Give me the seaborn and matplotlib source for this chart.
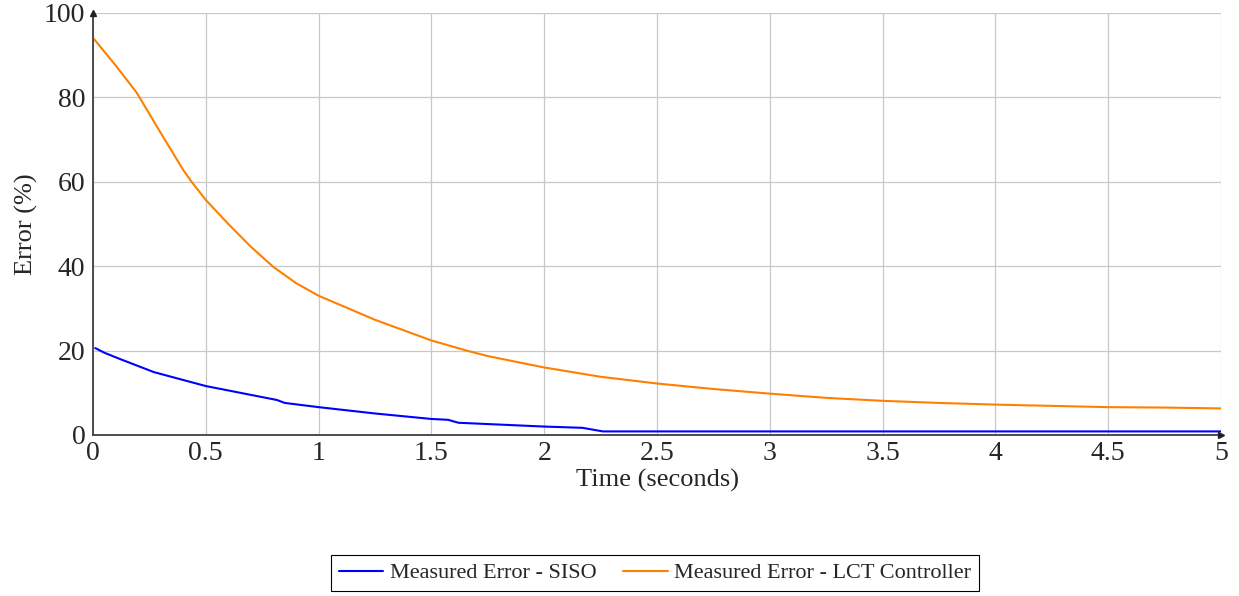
import matplotlib
matplotlib.use("Agg")
import matplotlib.pyplot as plt
import seaborn as sns
import pandas as pd

# Measured tracking error over time for two controllers
siso_time = [0.01, 0.05, 0.12, 0.27, 0.5, 0.815, 0.85, 1.0, 1.25, 1.5, 1.574,
             1.62, 2.0, 2.17, 2.26, 5.0]
siso_error = [20.6, 19.5, 18.0, 14.9, 11.6, 8.3, 7.6, 6.6, 5.1, 3.8, 3.6,
              2.9, 2.0, 1.7, 0.85, 0.85]

lct_time = [0.005, 0.1, 0.194, 0.3, 0.4, 0.437, 0.5, 0.6, 0.7, 0.8, 0.9, 1.0,
            1.25, 1.5, 1.656, 1.75, 2.0, 2.25, 2.5, 2.75, 3.0, 3.25, 3.5, 3.75,
            4.0, 4.25, 4.5, 4.75, 5.0]
lct_error = [93.8, 87.6, 81.1, 71.6, 62.8, 60.0, 55.7, 50.0, 44.6, 39.8, 36.0,
             33.0, 27.3, 22.4, 20.0, 18.7, 16.0, 13.8, 12.2, 10.9, 9.8, 8.8,
             8.1, 7.6, 7.2, 6.9, 6.6, 6.5, 6.3]

series_names = ["Measured Error - SISO", "Measured Error - LCT Controller"]
series_colors = ["#0000ff", "#ff8000"]

x_ticks = [0, 0.5, 1, 1.5, 2, 2.5, 3, 3.5, 4, 4.5, 5]
x_tick_labels = ["0", "0.5", "1", "1.5", "2", "2.5", "3", "3.5", "4", "4.5", "5"]
y_ticks = [0, 20, 40, 60, 80, 100]

sns.set_style("white")
plt.rcParams["font.family"] = ["Liberation Serif", "DejaVu Serif"]

df = pd.concat([
    pd.DataFrame({"time": siso_time, "error": siso_error, "series": series_names[0]}),
    pd.DataFrame({"time": lct_time, "error": lct_error, "series": series_names[1]}),
], ignore_index=True)

fig = plt.figure(figsize=(12.39, 5.96), dpi=100)
ax = fig.add_axes([93 / 1239, 161 / 596, 1128 / 1239, 422 / 596])

sns.lineplot(data=df, x="time", y="error", hue="series", hue_order=series_names,
             palette=series_colors, linewidth=1.5, sort=False, estimator=None,
             ax=ax, legend=True, zorder=3)

ax.set_xlim(0, 5)
ax.set_ylim(0, 100)
ax.set_xticks(x_ticks)
ax.set_xticklabels(x_tick_labels)
ax.set_yticks(y_ticks)

ax.grid(True, color="#c8c8c8", linewidth=0.9, zorder=0)
ax.set_axisbelow(True)

for side in ("top", "right"):
    ax.spines[side].set_visible(False)
for side in ("left", "bottom"):
    ax.spines[side].set_color("#404040")
    ax.spines[side].set_linewidth(1.3)
    ax.spines[side].set_zorder(4)

# arrow heads at the ends of the axis lines
ax.plot(0, 1, marker="^", color="#202020", markersize=4.5, transform=ax.transAxes,
        clip_on=False, zorder=5)
ax.plot(1, 0, marker=">", color="#202020", markersize=4.5, transform=ax.transAxes,
        clip_on=False, zorder=5)

ax.tick_params(axis="both", direction="inout", length=7, width=0.8,
               color="#505050", labelsize=20, pad=1)
ax.tick_params(axis="y", pad=2)

ax.set_xlabel("Time (seconds)", fontsize=19, labelpad=2)
ax.set_ylabel("Error (%)", fontsize=19, labelpad=4)

handles, labels = ax.get_legend_handles_labels()
ax.legend(handles, labels, loc="center", bbox_to_anchor=(655 / 1239, 23 / 596),
          bbox_transform=fig.transFigure, ncol=2, frameon=True, fancybox=False,
          edgecolor="black", framealpha=1, fontsize=16, handlelength=2.0,
          columnspacing=1.2, borderpad=0.35, handletextpad=0.3)
ax.get_legend().get_frame().set_linewidth(0.8)

fig.savefig("out.png", dpi=100)
